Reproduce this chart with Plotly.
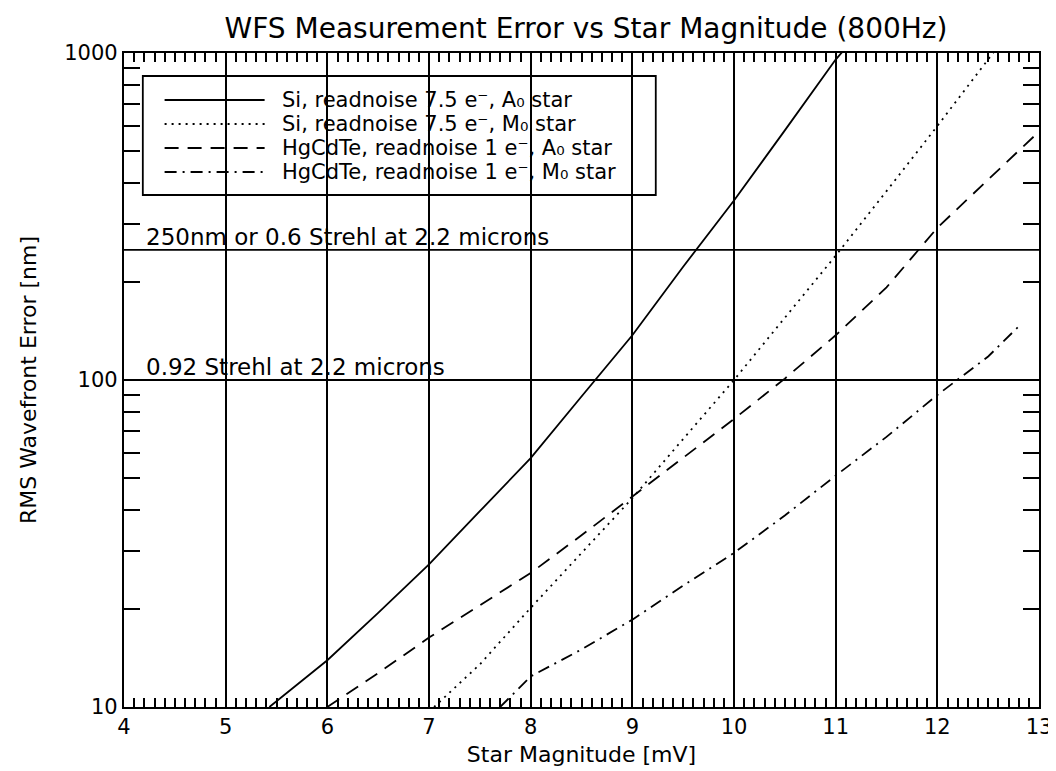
import math
import plotly.graph_objects as go

# ---------------- data ----------------
si_a0_mag = [5.43, 6.0, 6.5, 7.0, 7.5, 8.0, 8.5, 9.0, 9.5, 10.0, 10.5, 11.0, 11.15]
si_a0_err = [10, 13.9, 19.4, 27.3, 39.7, 57.7, 89, 137, 222, 354, 580, 955, 1080]

si_m0_mag = [7.05, 7.5, 8.0, 8.5, 9.0, 9.5, 10.0, 10.5, 11.0, 11.5, 12.0, 12.6]
si_m0_err = [10, 13.5, 20.1, 29.6, 43.5, 66, 100, 155, 240, 378, 598, 1050]

hg_a0_mag = [6.0, 6.5, 7.0, 7.5, 8.0, 8.5, 9.0, 9.5, 10.0, 10.5, 11.0, 11.5, 12.0, 12.5, 13.0]
hg_a0_err = [10, 12.7, 16.3, 20.5, 25.7, 33.5, 44, 58, 76, 101, 137, 192, 292, 410, 575]

hg_m0_mag = [7.7, 8.0, 8.5, 9.0, 9.5, 10.0, 10.5, 11.0, 11.5, 12.0, 12.5, 12.83]
hg_m0_err = [10, 12.4, 15.0, 18.5, 23.5, 29.6, 38.5, 51, 67, 90, 118, 149]

series_names = [
    "Si, readnoise 7.5 e\u207b, A\u2080 star",
    "Si, readnoise 7.5 e\u207b, M\u2080 star",
    "HgCdTe, readnoise 1 e\u207b, A\u2080 star",
    "HgCdTe, readnoise 1 e\u207b, M\u2080 star",
]

ref_levels = [250, 100]
ref_labels = ["250nm or 0.6 Strehl at 2.2 microns", "0.92 Strehl at 2.2 microns"]

x_ticks = [4, 5, 6, 7, 8, 9, 10, 11, 12, 13]
y_ticks = [10, 100, 1000]
y_minor = [20, 30, 40, 50, 60, 70, 80, 90, 200, 300, 400, 500, 600, 700, 800, 900]

# ---------------- styling ----------------
FONT = "DejaVu Sans"
W, H = 1056, 771
PL, PR, PT, PB = 116, 1040, 45, 699   # plot area in pixels
dashes = ["solid", "2px,5px", "14px,9px", "12px,6px,2px,6px"]
LW = 1.8

def px2paper_x(px):
    return (px - PL) / (PR - PL)

def px2paper_y(py):
    return (PB - py) / (PB - PT)

fig = go.Figure()

all_series = [(si_a0_mag, si_a0_err), (si_m0_mag, si_m0_err),
              (hg_a0_mag, hg_a0_err), (hg_m0_mag, hg_m0_err)]
for (xs, ys), name, d in zip(all_series, series_names, dashes):
    fig.add_trace(go.Scatter(x=xs, y=ys, mode="lines", name=name,
                             line=dict(color="black", width=LW, dash=d),
                             showlegend=False))

# reference levels
for lev, lab in zip(ref_levels, ref_labels):
    fig.add_trace(go.Scatter(x=[x_ticks[0], x_ticks[-1]], y=[lev, lev], mode="lines",
                             line=dict(color="black", width=1.8), showlegend=False,
                             hoverinfo="skip"))
    fig.add_annotation(x=4.2, y=math.log10(lev), xref="x", yref="y", text=lab,
                       showarrow=False, xanchor="left", yanchor="bottom", yshift=-2,
                       font=dict(family=FONT, size=23, color="black"))

# custom legend (box + samples + texts)
shapes = [dict(type="rect", xref="paper", yref="paper",
               x0=px2paper_x(135), x1=px2paper_x(653),
               y0=px2paper_y(187), y1=px2paper_y(68),
               line=dict(color="black", width=1.8), fillcolor="rgba(0,0,0,0)")]
rows = [92, 116, 140, 164]
for py, name, d in zip(rows, series_names, dashes):
    shapes.append(dict(type="line", xref="paper", yref="paper",
                       x0=px2paper_x(157), x1=px2paper_x(258),
                       y0=px2paper_y(py), y1=px2paper_y(py),
                       line=dict(color="black", width=LW, dash=d)))
    fig.add_annotation(x=px2paper_x(274), y=px2paper_y(py), xref="paper", yref="paper",
                       text=name, showarrow=False, xanchor="left", yanchor="middle",
                       font=dict(family=FONT, size=21, color="black"))

fig.update_layout(
    width=W, height=H,
    margin=dict(l=PL, r=W - PR, t=PT, b=H - PB, pad=0),
    paper_bgcolor="white", plot_bgcolor="white",
    font=dict(family=FONT, size=22, color="black"),
    title=dict(text="WFS Measurement Error vs Star Magnitude (800Hz)",
               x=(PL + PR) / 2 / W, xanchor="center",
               y=1 - 20 / H, yanchor="middle",
               font=dict(family=FONT, size=28, color="black")),
    shapes=shapes,
    showlegend=False,
)

fig.update_xaxes(
    range=[4, 13], tickvals=x_ticks, ticktext=[str(v) for v in x_ticks],
    showgrid=True, gridcolor="black", gridwidth=1.8, zeroline=False,
    showline=True, linecolor="black", linewidth=2.2, mirror="ticks",
    ticks="inside", ticklen=9, tickwidth=1.6, tickcolor="black",
    minor=dict(dtick=0.1, ticks="inside", ticklen=9, tickwidth=1.6, tickcolor="black", showgrid=False),
    tickfont=dict(family=FONT, size=21),
    title=dict(text="Star Magnitude [mV]", standoff=8, font=dict(family=FONT, size=22)),
)
fig.update_yaxes(
    type="log", range=[1, 3], tickvals=y_ticks, ticktext=[str(v) for v in y_ticks],
    showgrid=False, zeroline=False,
    showline=True, linecolor="black", linewidth=2.2, mirror="ticks",
    ticks="inside", ticklen=16, tickwidth=2, tickcolor="black",
    minor=dict(tickvals=y_minor, ticks="inside", ticklen=16, tickwidth=2, tickcolor="black", showgrid=False),
    tickfont=dict(family=FONT, size=21),
    title=dict(text="RMS Wavefront Error [nm]", standoff=22, font=dict(family=FONT, size=22)),
)

fig.write_html("out.html")
